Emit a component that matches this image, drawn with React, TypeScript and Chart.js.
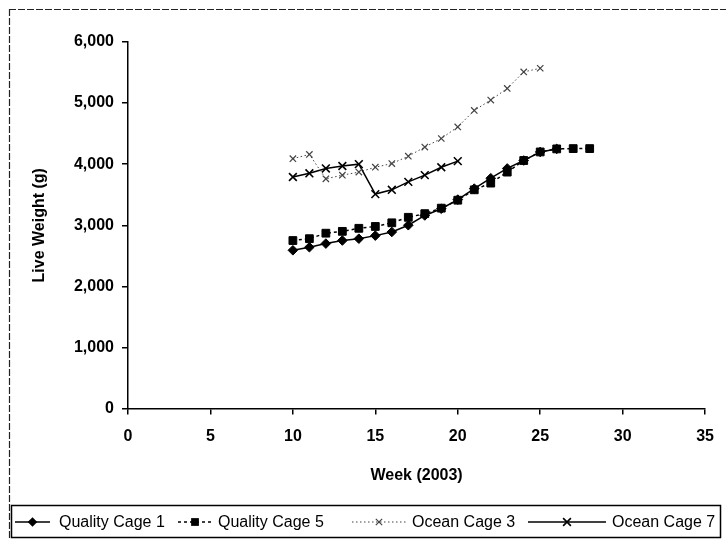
import React, { useEffect, useRef } from 'react';
import { Chart, registerables } from 'chart.js';

Chart.register(...registerables);

// ---- data ----
const weeksQC1 = [10, 11, 12, 13, 14, 15, 16, 17, 18, 19, 20, 21, 22, 23, 24, 25, 26];
const qualityCage1 = [2590, 2640, 2700, 2750, 2780, 2830, 2890, 3000, 3160, 3270, 3420, 3600, 3770, 3930, 4060, 4200, 4250];

const weeksQC5 = [10, 11, 12, 13, 14, 15, 16, 17, 18, 19, 20, 21, 22, 23, 24, 25, 26, 27, 28];
const qualityCage5 = [2750, 2780, 2870, 2900, 2950, 2980, 3040, 3130, 3190, 3280, 3410, 3580, 3690, 3870, 4060, 4200, 4250, 4255, 4255];

const weeksOC3 = [10, 11, 12, 13, 14, 15, 16, 17, 18, 19, 20, 21, 22, 23, 24, 25];
const oceanCage3 = [4090, 4160, 3760, 3820, 3870, 3950, 4010, 4130, 4280, 4420, 4610, 4880, 5050, 5240, 5510, 5570];

const weeksOC7 = [10, 11, 12, 13, 14, 15, 16, 17, 18, 19, 20];
const oceanCage7 = [3790, 3850, 3930, 3970, 4000, 3510, 3580, 3710, 3820, 3950, 4050];

const seriesLabels = ['Quality Cage 1', 'Quality Cage 5', 'Ocean Cage 3', 'Ocean Cage 7'];
const xTitle = 'Week (2003)';
const yTitle = 'Live Weight (g)';
const xMin = 0, xMax = 35, xStep = 5;
const yMin = 0, yMax = 6000, yStep = 1000;

const FONT = '"Liberation Sans", Arial, Helvetica, sans-serif';

const toPoints = (xs: number[], ys: number[]) => xs.map((x, i) => ({ x, y: ys[i] }));

type Style = {
  color: string;
  width: number;
  dash: number[];
  marker: string;
  radius: number;
  markerWidth: number;
};

const styles: Style[] = [
  { color: '#000', width: 1.5, dash: [], marker: 'rectRot', radius: 4.8, markerWidth: 1 },
  { color: '#000', width: 1.5, dash: [3, 3], marker: 'rect', radius: 5.5, markerWidth: 1 },
  { color: '#444', width: 1, dash: [1.5, 2.5], marker: 'crossRot', radius: 4.5, markerWidth: 1.2 },
  { color: '#000', width: 1.5, dash: [], marker: 'crossRot', radius: 5.5, markerWidth: 1.6 },
];

function drawMarker(ctx: CanvasRenderingContext2D, st: Style, x: number, y: number) {
  const r = st.radius;
  ctx.save();
  ctx.setLineDash([]);
  ctx.fillStyle = st.color;
  ctx.strokeStyle = st.color;
  ctx.lineWidth = st.markerWidth;
  ctx.beginPath();
  if (st.marker === 'rectRot') {
    ctx.moveTo(x, y - r);
    ctx.lineTo(x + r, y);
    ctx.lineTo(x, y + r);
    ctx.lineTo(x - r, y);
    ctx.closePath();
    ctx.fill();
  } else if (st.marker === 'rect') {
    const s = r * 0.707;
    ctx.rect(x - s, y - s, 2 * s, 2 * s);
    ctx.fill();
  } else {
    const s = r * 0.707;
    ctx.moveTo(x - s, y - s);
    ctx.lineTo(x + s, y + s);
    ctx.moveTo(x + s, y - s);
    ctx.lineTo(x - s, y + s);
    ctx.stroke();
  }
  ctx.restore();
}

const legendItems = [
  { from: 15, to: 50, textX: 59 },
  { from: 178, to: 212, textX: 218 },
  { from: 352, to: 406, textX: 412 },
  { from: 528, to: 606, textX: 612 },
];

const framePlugin = {
  id: 'framePlugin',
  beforeDraw(chart: any) {
    const ctx: CanvasRenderingContext2D = chart.ctx;
    ctx.save();
    ctx.strokeStyle = '#222';
    ctx.lineWidth = 1.2;
    ctx.setLineDash([7, 2]);
    ctx.beginPath();
    ctx.moveTo(9.5, 9);
    ctx.lineTo(9.5, 540);
    ctx.moveTo(9, 9.5);
    ctx.lineTo(726, 9.5);
    ctx.stroke();
    ctx.restore();
  },
  afterDraw(chart: any) {
    const ctx: CanvasRenderingContext2D = chart.ctx;
    ctx.save();
    ctx.strokeStyle = '#000';
    ctx.lineWidth = 1.5;
    ctx.setLineDash([]);
    ctx.strokeRect(11.5, 505.5, 709, 32);
    const cy = 522;
    ctx.font = `16px ${FONT}`;
    ctx.fillStyle = '#000';
    ctx.textBaseline = 'middle';
    ctx.textAlign = 'left';
    legendItems.forEach((it, i) => {
      const st = styles[i];
      ctx.save();
      ctx.strokeStyle = st.color;
      ctx.lineWidth = st.width;
      ctx.setLineDash(st.dash);
      ctx.beginPath();
      ctx.moveTo(it.from, cy);
      ctx.lineTo(it.to, cy);
      ctx.stroke();
      ctx.restore();
      drawMarker(ctx, st, (it.from + it.to) / 2, cy);
      ctx.fillText(seriesLabels[i], it.textX, cy + 1);
    });
    ctx.restore();
  },
};

export default function App() {
  const canvasRef = useRef<HTMLCanvasElement | null>(null);

  useEffect(() => {
    if (!canvasRef.current) return;
    const seriesData = [
      toPoints(weeksQC1, qualityCage1),
      toPoints(weeksQC5, qualityCage5),
      toPoints(weeksOC3, oceanCage3),
      toPoints(weeksOC7, oceanCage7),
    ];
    const datasets = seriesData.map((d, i) => {
      const st = styles[i];
      return {
        label: seriesLabels[i],
        data: d,
        borderColor: st.color,
        backgroundColor: st.color,
        borderWidth: st.width,
        borderDash: st.dash,
        pointStyle: st.marker,
        pointRadius: st.radius,
        pointBackgroundColor: st.color,
        pointBorderColor: st.color,
        pointBorderWidth: st.markerWidth,
        tension: 0,
        fill: false,
      };
    });

    const axisGrid = {
      drawOnChartArea: false,
      drawTicks: true,
      tickLength: 6,
      color: '#000',
      lineWidth: 1.5,
    };

    const chart = new Chart(canvasRef.current, {
      type: 'line',
      data: { datasets: datasets as any },
      options: {
        responsive: false,
        maintainAspectRatio: false,
        animation: false,
        layout: { padding: { left: 0, top: 42, right: 17, bottom: 0 } },
        plugins: {
          legend: { display: false },
          tooltip: { enabled: false },
        },
        scales: {
          x: {
            type: 'linear',
            min: xMin,
            max: xMax,
            ticks: {
              stepSize: xStep,
              color: '#000',
              font: { family: FONT, size: 16, weight: 'bold' },
              padding: 12,
            },
            grid: axisGrid as any,
            border: { display: true, color: '#000', width: 1.5 },
            title: {
              display: true,
              text: xTitle,
              color: '#000',
              font: { family: FONT, size: 16, weight: 'bold' },
              padding: { top: 0, bottom: 55 },
            },
            afterFit: (s: any) => {
              s.height = 131.5;
            },
          },
          y: {
            type: 'linear',
            min: yMin,
            max: yMax,
            ticks: {
              stepSize: yStep,
              color: '#000',
              font: { family: FONT, size: 16, weight: 'bold' },
              padding: 8,
              callback: (v: any) => Number(v).toLocaleString('en-US'),
            },
            grid: axisGrid as any,
            border: { display: true, color: '#000', width: 1.5 },
            title: {
              display: true,
              text: yTitle,
              color: '#000',
              font: { family: FONT, size: 16, weight: 'bold' },
              padding: { top: 30, bottom: 0 },
            },
            afterFit: (s: any) => {
              s.width = 128;
            },
          },
        },
      },
      plugins: [framePlugin as any],
    });
    return () => chart.destroy();
  }, []);

  return (
    <div style={{ position: 'absolute', left: 0, top: 0, width: 726, height: 540, background: '#fff' }}>
      <canvas ref={canvasRef} width={726} height={540} style={{ display: 'block' }} />
    </div>
  );
}
